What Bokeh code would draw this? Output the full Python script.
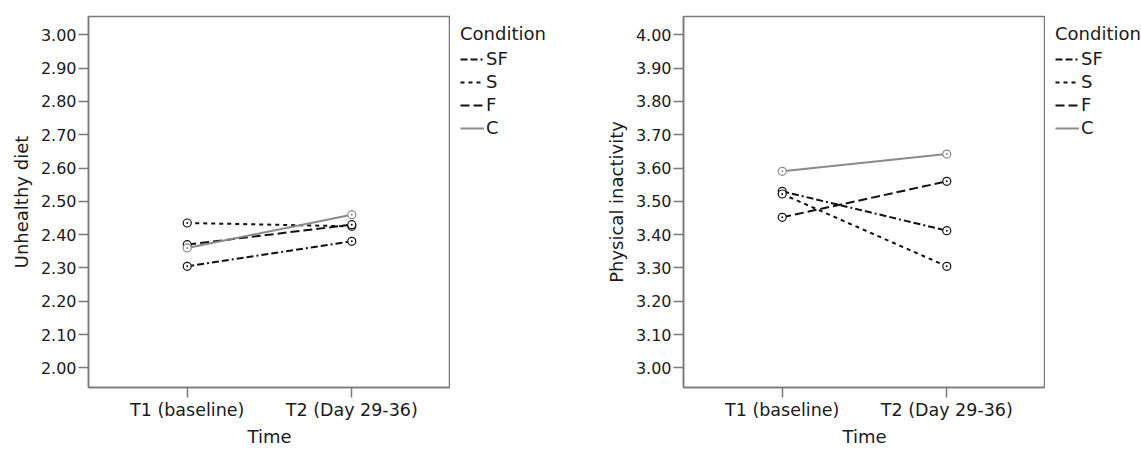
from bokeh.plotting import figure
from bokeh.layouts import row
from bokeh.models import Range1d, FixedTicker, PrintfTickFormatter, Legend, LegendItem, ColumnDataSource
from bokeh.embed import file_html
from bokeh.resources import INLINE

# ---- data ----
time_labels = ["T1 (baseline)", "T2 (Day 29-36)"]
time_index = [0, 1]
conditions = ["SF", "S", "F", "C"]

diet_SF = [2.305, 2.380]
diet_S = [2.435, 2.425]
diet_F = [2.370, 2.430]
diet_C = [2.360, 2.460]

inact_SF = [3.530, 3.412]
inact_S = [3.522, 3.305]
inact_F = [3.452, 3.560]
inact_C = [3.590, 3.642]

diet_ticks = [2.0, 2.1, 2.2, 2.3, 2.4, 2.5, 2.6, 2.7, 2.8, 2.9, 3.0]
inact_ticks = [3.0, 3.1, 3.2, 3.3, 3.4, 3.5, 3.6, 3.7, 3.8, 3.9, 4.0]

# ---- styles ----
FONT = "DejaVu Sans"
TXT = "#1a1a1a"
GRAY = "#7a7a7a"
FRAME_W, FRAME_H = 362, 371
NAN = float("nan")
styles = {
    "SF": dict(color="#111111", dash="7 3 7 3 2 3"),
    "S": dict(color="#111111", dash="4 4"),
    "F": dict(color="#111111", dash="9 4"),
    "C": dict(color="#8a8a8a", dash="solid"),
}


def make_panel(series, ylabel, yrange, yticks, left):
    p = figure(frame_width=FRAME_W, frame_height=FRAME_H, x_range=Range1d(-0.6, 1.6),
               y_range=Range1d(*yrange), output_backend="svg",
               toolbar_location=None, min_border_left=left,
               min_border_right=0, min_border_top=16, min_border_bottom=62)
    p.grid.visible = False
    p.outline_line_color = GRAY
    p.outline_line_width = 1.5
    p.background_fill_color = "white"
    p.border_fill_color = "white"

    xa = p.xaxis[0]
    xa.ticker = FixedTicker(ticks=time_index)
    xa.major_label_overrides = {i: lab for i, lab in zip(time_index, time_labels)}
    xa.axis_label = "Time"
    ya = p.yaxis[0]
    ya.ticker = FixedTicker(ticks=yticks)
    ya.formatter = PrintfTickFormatter(format="%.2f")
    ya.axis_label = ylabel
    for ax in (xa, ya):
        ax.axis_line_color = GRAY
        ax.axis_line_width = 1.5
        ax.major_tick_line_color = GRAY
        ax.major_tick_line_width = 1.5
        ax.major_tick_out = 10
        ax.major_tick_in = 0
        ax.minor_tick_out = 0
        ax.minor_tick_in = 0
        ax.major_label_text_font = FONT
        ax.major_label_text_color = TXT
        ax.axis_label_text_font = FONT
        ax.axis_label_text_font_size = "18px"
        ax.axis_label_text_font_style = "normal"
        ax.axis_label_text_color = TXT
        ax.major_label_standoff = 2
    xa.major_label_text_font_size = "17.5px"
    ya.major_label_text_font_size = "16px"
    ya.axis_label_standoff = 6
    xa.axis_label_standoff = 3

    for cond in conditions:
        st = styles[cond]
        src = ColumnDataSource(dict(x=time_index, y=series[cond]))
        p.line("x", "y", source=src, line_color=st["color"], line_width=2,
               line_dash=st["dash"])
        p.scatter("x", "y", source=src, marker="circle_dot", size=8,
                  line_color=st["color"], fill_color="white", line_width=1.2)
    return p


def make_legend_panel(width):
    lf = figure(width=width, height=449, x_range=Range1d(0, 1), y_range=Range1d(0, 1),
                output_backend="svg", toolbar_location=None,
                x_axis_location=None, y_axis_location=None,
                min_border_left=3, min_border_top=16, min_border_right=0,
                min_border_bottom=62)
    lf.grid.visible = False
    lf.outline_line_color = None
    items = []
    for cond in conditions:
        st = styles[cond]
        # legend key only (invisible NaN point): styled sample of each condition's line
        r = lf.line(x=[NAN, NAN], y=[NAN, NAN], line_color=st["color"], line_width=2,
                    line_dash=st["dash"])
        items.append(LegendItem(label=cond, renderers=[r]))
    leg = Legend(items=items, title="Condition", location="top_left",
                 label_text_font=FONT, label_text_font_size="18px",
                 label_text_color=TXT, title_text_font=FONT,
                 title_text_font_size="18px", title_text_font_style="normal",
                 title_text_color=TXT, glyph_width=24, glyph_height=20,
                 label_height=20, spacing=2, label_standoff=2, padding=4,
                 margin=7, title_standoff=4, border_line_color=None,
                 background_fill_alpha=0)
    lf.add_layout(leg, "center")
    return lf


p1 = make_panel({"SF": diet_SF, "S": diet_S, "F": diet_F, "C": diet_C},
                "Unhealthy diet", (1.941, 3.055), diet_ticks, 88)
p2 = make_panel({"SF": inact_SF, "S": inact_S, "F": inact_F, "C": inact_C},
                "Physical inactivity", (2.941, 4.055), inact_ticks, 83)

layout = row(p1, make_legend_panel(150), p2, make_legend_panel(96))
open("out.html", "w").write(file_html(layout, INLINE))
